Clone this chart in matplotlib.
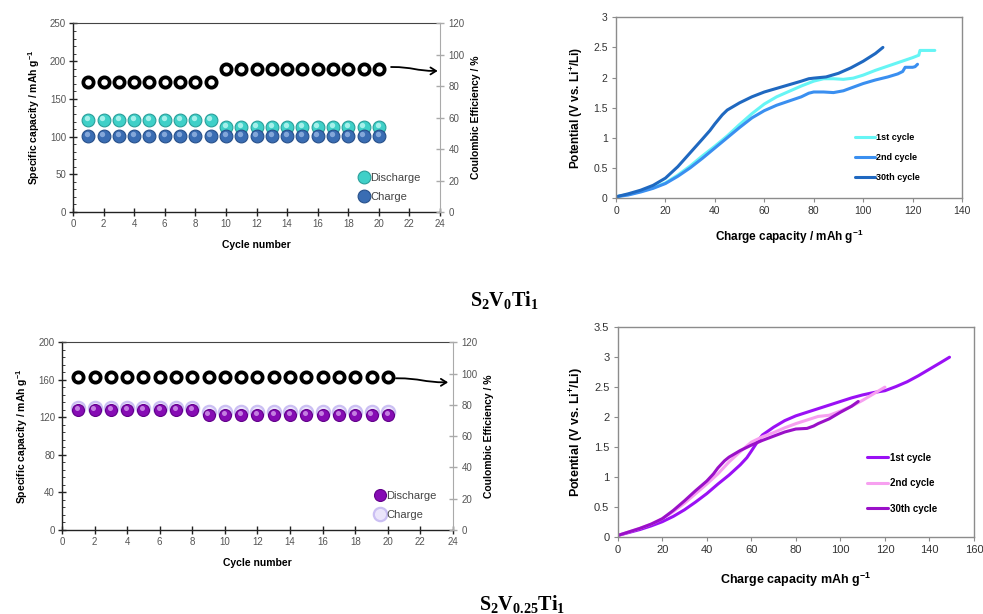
import matplotlib
matplotlib.use("Agg")
import matplotlib.pyplot as plt
from matplotlib.ticker import MultipleLocator, AutoMinorLocator, FuncFormatter
from matplotlib.patches import FancyArrowPatch
from matplotlib.path import Path
from matplotlib.transforms import offset_copy

plt.rcParams['font.family'] = ['Liberation Sans', 'DejaVu Sans']
plt.rcParams['mathtext.fontset'] = 'custom'
plt.rcParams['mathtext.rm'] = 'Liberation Serif:bold'
plt.rcParams['mathtext.bf'] = 'Liberation Serif:bold'

# ---------------- data ----------------
cycles = [1, 2, 3, 4, 5, 6, 7, 8, 9, 10, 11, 12, 13, 14, 15, 16, 17, 18, 19, 20]

# S2V0Ti1 cycling
a_discharge = [122, 122, 122, 122, 122, 122, 122, 122, 122, 113, 113, 113, 113, 113, 113, 113, 113, 113, 113, 113]
a_charge = [101, 101, 101, 101, 101, 101, 101, 101, 101, 101, 101, 101, 101, 101, 101, 101, 101, 101, 101, 101]
a_eff = [83, 83, 83, 83, 83, 83, 83, 83, 83, 91, 91, 91, 91, 91, 91, 91, 91, 91, 91, 91]

# S2V0.25Ti1 cycling
b_discharge = [128, 128, 128, 128, 128, 128, 128, 128, 123, 123, 123, 123, 123, 123, 123, 123, 123, 123, 123, 123]
b_charge = [130, 130, 130, 130, 130, 130, 130, 130, 125.5, 125.5, 125.5, 125.5, 125.5, 125.5, 125.5, 125.5, 125.5, 125.5, 125.5, 125.5]
b_eff = [98, 98, 98, 98, 98, 98, 98, 98, 98, 98, 98, 98, 98, 98, 98, 98, 98, 98, 98, 98]

# S2V0Ti1 charge curves
a1_x = [0, 5, 10, 15, 20, 25, 30, 35, 40, 45, 50, 55, 60, 65, 70, 75, 80, 84, 88, 92, 96, 100, 105, 110, 115, 120, 122.5, 123, 129]
a1_y = [0.02, 0.06, 0.11, 0.17, 0.25, 0.38, 0.53, 0.70, 0.86, 1.03, 1.22, 1.40, 1.56, 1.68, 1.77, 1.86, 1.94, 1.98, 1.98, 1.97, 1.99, 2.04, 2.12, 2.19, 2.26, 2.33, 2.37, 2.45, 2.45]
a2_x = [0, 5, 10, 15, 20, 25, 30, 35, 40, 45, 50, 55, 60, 65, 70, 75, 78, 80, 84, 88, 92, 96, 100, 105, 110, 114, 116, 117, 120, 121, 122]
a2_y = [0.02, 0.05, 0.10, 0.16, 0.24, 0.36, 0.50, 0.66, 0.83, 1.00, 1.17, 1.33, 1.45, 1.54, 1.61, 1.68, 1.74, 1.76, 1.76, 1.75, 1.78, 1.84, 1.90, 1.96, 2.01, 2.06, 2.10, 2.17, 2.17, 2.18, 2.22]
a30_x = [0, 5, 10, 15, 20, 25, 30, 35, 38, 40, 43, 45, 50, 55, 60, 65, 70, 75, 78, 80, 85, 90, 95, 100, 105, 108]
a30_y = [0.02, 0.07, 0.13, 0.21, 0.33, 0.52, 0.75, 0.98, 1.12, 1.23, 1.38, 1.46, 1.58, 1.68, 1.76, 1.82, 1.88, 1.94, 1.98, 1.99, 2.01, 2.07, 2.16, 2.27, 2.40, 2.50]

# S2V0.25Ti1 charge curves
b1_x = [0, 5, 10, 15, 20, 25, 30, 35, 40, 45, 50, 55, 58, 60, 63, 65, 70, 75, 80, 85, 90, 95, 100, 105, 110, 115, 120, 125, 130, 135, 140, 145, 149]
b1_y = [0.02, 0.07, 0.12, 0.18, 0.25, 0.34, 0.45, 0.58, 0.72, 0.88, 1.03, 1.20, 1.32, 1.43, 1.60, 1.70, 1.83, 1.94, 2.02, 2.08, 2.14, 2.20, 2.26, 2.32, 2.37, 2.41, 2.44, 2.51, 2.59, 2.69, 2.80, 2.91, 3.00]
b2_x = [0, 5, 10, 15, 20, 25, 30, 35, 40, 45, 48, 50, 55, 60, 65, 70, 75, 80, 85, 90, 95, 100, 105, 110, 115, 120]
b2_y = [0.02, 0.08, 0.14, 0.21, 0.30, 0.42, 0.56, 0.72, 0.88, 1.05, 1.17, 1.25, 1.42, 1.58, 1.67, 1.74, 1.82, 1.89, 1.95, 2.01, 2.03, 2.10, 2.18, 2.28, 2.39, 2.50]
b30_x = [0, 5, 10, 15, 20, 25, 30, 35, 40, 43, 45, 48, 50, 55, 60, 65, 70, 75, 80, 85, 88, 90, 95, 100, 105, 108]
b30_y = [0.02, 0.08, 0.14, 0.21, 0.30, 0.44, 0.60, 0.77, 0.93, 1.05, 1.15, 1.27, 1.33, 1.44, 1.53, 1.61, 1.68, 1.75, 1.80, 1.81, 1.85, 1.89, 1.97, 2.08, 2.18, 2.26]

curve_labels = ['1st cycle', '2nd cycle', '30th cycle']

fig = plt.figure(figsize=(9.83, 6.14), dpi=100)
W, H = 983, 614


def rect(l, t, r, b):
    return [l / W, 1 - b / H, (r - l) / W, (b - t) / H]


def sphere(ax, y, kw, hl_color):
    h, = ax.plot(cycles, y, linestyle='none', **kw)
    tr = offset_copy(ax.transData, fig=fig, x=-1.2, y=1.6, units='dots')
    ax.plot(cycles, y, linestyle='none', marker='o', ms=kw['ms'] * 0.42,
            mfc=hl_color, mec='none', alpha=0.75, transform=tr)
    return h


def cycle_panel(box, ymax, ystep, dis, chg, eff, dis_kw, chg_kw, chg_under,
                arrow, leg_anchor, dis_hl, chg_hl):
    ax = fig.add_axes(box)
    ax2 = ax.twinx()
    ax.set_zorder(1)
    ax2.set_zorder(2)
    ax.patch.set_visible(False)
    ax2.patch.set_visible(False)
    if chg_under:
        h2, = ax.plot(cycles, chg, linestyle='none', **chg_kw)
        h1 = sphere(ax, dis, dis_kw, dis_hl)
    else:
        h1 = sphere(ax, dis, dis_kw, dis_hl)
        h2 = sphere(ax, chg, chg_kw, chg_hl)
    ax2.plot(cycles, eff, linestyle='none', marker='o', ms=7.4, mfc='white',
             mec='black', mew=2.7)
    ax.set_xlim(0, 24)
    ax.set_ylim(0, ymax)
    ax2.set_ylim(0, 120)
    ax.xaxis.set_major_locator(MultipleLocator(2))
    ax.yaxis.set_major_locator(MultipleLocator(ystep))
    ax.yaxis.set_minor_locator(AutoMinorLocator(5))
    ax2.yaxis.set_major_locator(MultipleLocator(20))
    for s in ['left', 'bottom']:
        ax.spines[s].set_color('#222222')
        ax.spines[s].set_linewidth(1.0)
    ax.spines['top'].set_color('#444444')
    ax.spines['right'].set_visible(False)
    for s in ['left', 'top', 'bottom']:
        ax2.spines[s].set_visible(False)
    ax2.spines['right'].set_color('#aaaaaa')
    ax.tick_params(axis='both', which='major', direction='inout', length=6,
                   width=1, color='#222222', labelsize=7, labelcolor='#555555', pad=2)
    ax.tick_params(axis='y', which='minor', direction='in', length=2.5,
                   color='#222222')
    ax.tick_params(axis='x', which='minor', length=0)
    ax2.tick_params(axis='y', direction='inout', length=6, width=1,
                    color='#aaaaaa', labelsize=7, labelcolor='#555555', pad=3)
    ax.set_xlabel('Cycle number', fontsize=7.5, fontweight='bold', labelpad=8)
    ax.set_ylabel('Specific capacity / mAh g$^{\\mathregular{-1}}$', fontsize=7.5,
                  fontweight='bold', labelpad=6)
    ax2.set_ylabel('Coulombic Efficiency / %', fontsize=7.5, fontweight='bold',
                   labelpad=5)
    (x0, y0), (x1, y1) = arrow
    xm = (x0 + x1) / 2
    path = Path([(x0, y0), (xm, y0), (xm, y1), (x1, y1)],
                [Path.MOVETO, Path.CURVE4, Path.CURVE4, Path.CURVE4])
    arr = FancyArrowPatch(path=path, arrowstyle='->,head_length=4,head_width=2.5',
                          color='black', lw=1.3, transform=ax2.transData,
                          clip_on=False)
    ax2.add_patch(arr)
    ax.legend([h1, h2], ['Discharge', 'Charge'], loc='lower left',
              bbox_to_anchor=leg_anchor, frameon=False, fontsize=8,
              handlelength=0.9, handletextpad=0.1, labelspacing=0.75,
              borderpad=0, borderaxespad=0, labelcolor='#444444')
    return ax, ax2


def curve_panel(box, xmax, xstep, ymax, xs, ys, colors, xlabel, leg_anchor,
                lab_fs, tick_fs, leg_fs, spacing, xlabelpad):
    ax = fig.add_axes(box)
    for x, y, c, lab in zip(xs, ys, colors, curve_labels):
        ax.plot(x, y, color=c, lw=2.2, label=lab, solid_capstyle='round')
    ax.set_xlim(0, xmax)
    ax.set_ylim(0, ymax)
    ax.xaxis.set_major_locator(MultipleLocator(xstep))
    ax.yaxis.set_major_locator(MultipleLocator(0.5))
    ax.yaxis.set_major_formatter(FuncFormatter(lambda v, p: '{:g}'.format(v)))
    for s in ax.spines.values():
        s.set_color('#8c8c8c')
        s.set_linewidth(1.0)
    ax.tick_params(axis='both', direction='out', length=3, color='#8c8c8c',
                   labelsize=tick_fs, labelcolor='#333333', pad=3)
    ax.set_xlabel(xlabel, fontsize=lab_fs, fontweight='bold', labelpad=xlabelpad)
    ax.set_ylabel('Potential (V vs. Li$^{\\mathregular{+}}$/Li)', fontsize=lab_fs,
                  fontweight='bold', labelpad=6)
    ax.legend(loc='lower left', bbox_to_anchor=leg_anchor, frameon=False,
              handlelength=2.2, handletextpad=0.2, labelspacing=spacing,
              borderpad=0, borderaxespad=0,
              prop={'size': leg_fs, 'weight': 'bold'})
    return ax


# top-left
cycle_panel(rect(73, 23.5, 440, 212), 250, 50, a_discharge, a_charge, a_eff,
            dict(marker='o', ms=9.2, mfc='#3fd0c8', mec='#2a9f9a', mew=0.8),
            dict(marker='o', ms=9.2, mfc='#3a6db3', mec='#27508a', mew=0.8),
            False, ((20.8, 92.3), (23.85, 89.8)), (0.78, 0.055),
            '#c8fbf6', '#9dbbe6')

# bottom-left
cycle_panel(rect(62, 342.3, 453, 530), 200, 40, b_discharge, b_charge, b_eff,
            dict(marker='o', ms=8.6, mfc='#860cb4', mec='#62008a', mew=0.8),
            dict(marker='o', ms=9.6, mfc='#ebe5fb', mec='#cbbff3', mew=1.6),
            True, ((20.5, 97.0), (23.7, 94.4)), (0.8, 0.055),
            '#d9a6f0', '#ffffff')

# top-right
curve_panel(rect(616, 17.3, 962, 198), 140, 20, 3, [a1_x, a2_x, a30_x],
            [a1_y, a2_y, a30_y], ['#66f5f5', '#3a8ff0', '#1f68c0'],
            'Charge capacity / mAh g$^{\\mathregular{-1}}$', (0.69, 0.09),
            8.5, 7.5, 6.5, 1.2, 8)

# bottom-right
curve_panel(rect(617.7, 327.3, 974, 536.7), 160, 20, 3.5, [b1_x, b2_x, b30_x],
            [b1_y, b2_y, b30_y], ['#9a10f5', '#f7a0f0', '#9a10c8'],
            'Charge capacity mAh g$^{\\mathregular{-1}}$', (0.7, 0.11),
            9, 8, 7, 1.6, 11)

fig.text(504 / W, 1 - 300 / H, r'$\mathrm{S_2V_0Ti_1}$', ha='center',
         va='center', fontsize=14.5)
fig.text(522 / W, 1 - 604 / H, r'$\mathrm{S_2V_{0.25}Ti_1}$', ha='center',
         va='center', fontsize=14.5)

fig.savefig('out.png', dpi=100, facecolor='white')
